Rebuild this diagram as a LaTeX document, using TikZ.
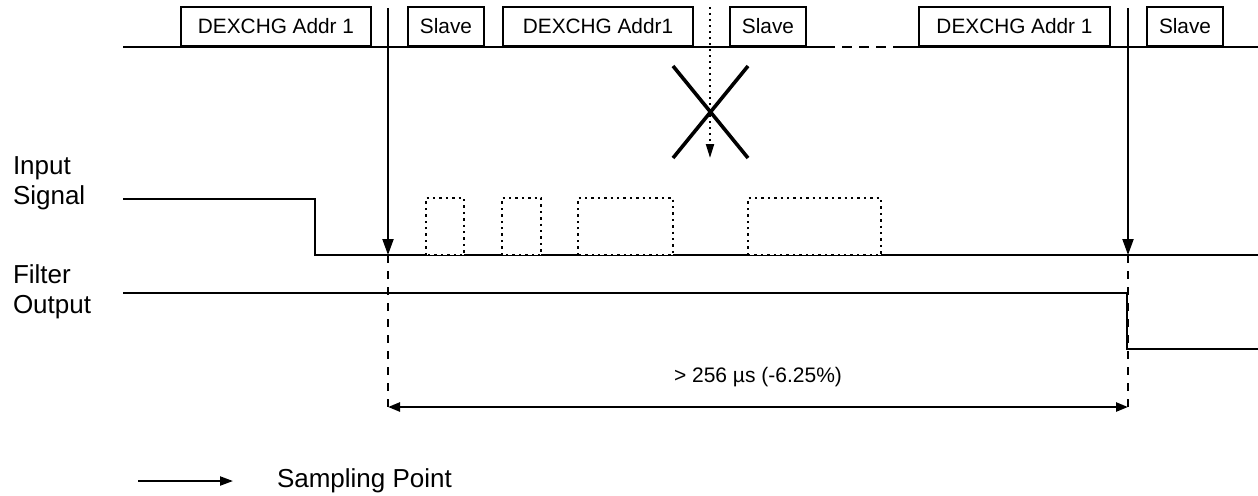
\documentclass[tikz,border=0pt]{standalone}
\usepackage{fontspec}
\setmainfont{Liberation Sans}
\usetikzlibrary{positioning, arrows.meta}

\begin{document}
\begin{tikzpicture}[
			x=0.5pt, y=-0.5pt,
			line width=1pt,
			node distance=21.5pt,
			frame_node/.style={
				rectangle,
				draw=black,
				fill=white,
				inner sep=0pt,
				minimum height=19.5pt,
				anchor=south west,
				font=\fontsize{10.4}{12}\selectfont
			},
			desc/.style={
				inner sep=0pt,
				align=left,
				anchor=west,
				font=\fontsize{13}{15}\selectfont
			},
			pulse/.style={
				draw=black,
				fill=white,
				dotted,
				line width=1.2pt
			},
			sample/.style={
				-{Triangle[length=8pt, width=5.5pt]}
			},
			ext/.style={
				dash pattern=on 4pt off 4pt
			}
			]
			
			\useasboundingbox (0,0) rectangle (1258,495);
			
			% Bus
			
			\draw (123,47) -- (825,47);
			\draw[dash pattern=on 5pt off 3.5pt] (825,47) -- (900,47);
			\draw (900,47) -- (1258,47);
			
			\node [frame_node, minimum width=95pt] (addr_a) at (180,47) {DEXCHG Addr 1};
			\node [frame_node, minimum width=38pt] (slave_a) at (407,47) {Slave};
			\node [frame_node, minimum width=95pt] (addr_b) at (502,47) {DEXCHG Addr1};
			\node [frame_node, minimum width=38pt] (slave_b) at (729,47) {Slave};
			\node [frame_node, minimum width=95.5pt] (addr_c) at (918,47) {DEXCHG Addr 1};
			\node [frame_node, minimum width=38pt] (slave_c) at (1146,47) {Slave};
			
			% Descriptions
			
			\node [desc] (D0) at (12,183) {Input\\Signal};
			\node [desc] (D1) at (12,292) {Filter\\Output};
			
			% Signals
			
			\coordinate (in_start) at (123,199);
			\coordinate (in_edge) at (315,255);
			\coordinate (fo_start) at (123,293);
			\coordinate (fo_edge) at (1127,349);
			
			\draw (in_start) -| (in_edge) -- (1258,255);
			\draw (fo_start) -| (fo_edge) -- (1258,349);
			
			\draw[pulse] (426,255) rectangle (464,198);
			\draw[pulse] (502,255) rectangle (541,198);
			\draw[pulse] (578,255) rectangle (673,198);
			\draw[pulse] (748,255) rectangle (881,198);
			
			% Sampling points
			
			\coordinate (sp1_top) at (388,8);
			\coordinate (sp1) at (388,255);
			\coordinate (sp1_end) at (388,410);
			\coordinate (sp2_top) at (1128,8);
			\coordinate (sp2) at (1128,255);
			\coordinate (sp2_end) at (1128,410);
			
			\draw[sample] (sp1_top) -- (sp1);
			\draw[sample] (sp2_top) -- (sp2);
			\draw[ext] (sp1) -- (sp1_end);
			\draw[ext] (sp2) -- (sp2_end);
			
			\draw[{Triangle[length=6pt, width=4.5pt]}-{Triangle[length=6pt, width=4.5pt]}, line width=1.2pt] (388,407) -- (1128,407);
			\node [font=\fontsize{10.5}{12}\selectfont] (dur) at (758,377) {> 256 µs (-6.25\%)};
			
			% Missed sample
			
			\coordinate (miss_top) at (710,7);
			\coordinate (miss) at (710,158);
			\draw[dotted, -{Triangle[length=7pt, width=4pt]}] (miss_top) -- (miss);
			\draw[line width=1.8pt] (673,66) -- (748,158);
			\draw[line width=1.8pt] (748,66) -- (673,158);
			
			% Legend
			
			\coordinate (leg_a) at (138,481);
			\coordinate (leg_b) at (233,481);
			\draw[-{Triangle[length=6.5pt, width=4.5pt]}] (leg_a) -- (leg_b);
			\node [desc, right=of leg_b] (leg) {Sampling Point};
			
		\end{tikzpicture}
\end{document}
